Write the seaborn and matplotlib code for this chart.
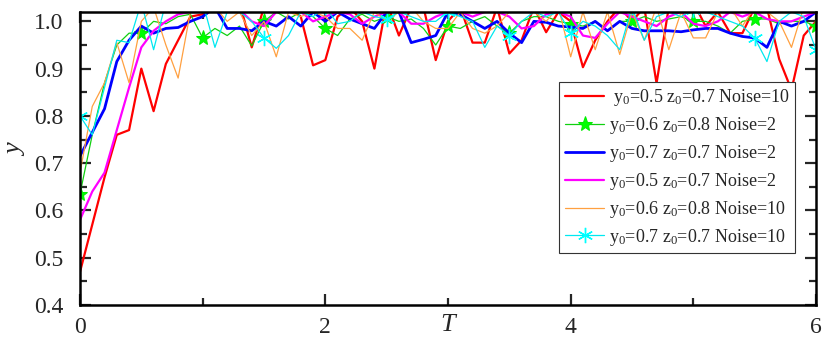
import numpy as np
import pandas as pd
import matplotlib
matplotlib.use('Agg')
import matplotlib.pyplot as plt
import seaborn as sns

# time axis (step 0.1)
t = np.round(np.arange(61) * 0.1, 1)

red = [0.47, 0.57, 0.67, 0.76, 0.77, 0.90, 0.81, 0.91, 0.96, 1.01,
       1.015, 1.04, 1.03, 1.04, 0.945, 1.03, 1.04, 1.03, 1.01, 0.907,
       0.918, 1.01, 1.03, 1.0, 0.90, 1.04, 0.97, 1.03, 1.03, 0.918,
       1.0, 1.03, 0.955, 0.955, 1.03, 0.932, 0.96, 1.03, 0.977, 1.02,
       1.0, 0.903, 0.96, 1.0, 1.03, 1.0, 1.03, 0.869, 1.03, 1.03,
       1.04, 0.99, 1.02, 0.975, 0.975, 1.03, 1.03, 0.92, 0.855, 0.97,
       1.0]
green = [0.635, 0.76, 0.87, 0.95, 0.975, 0.975, 1.0, 0.995, 1.01, 1.015,
         0.965, 0.985, 0.97, 0.99, 0.948, 1.0, 1.02, 1.005, 1.02, 1.01,
         0.985, 0.97, 1.005, 1.015, 1.0, 1.01, 1.0, 1.005, 0.985, 0.95,
         0.99, 0.985, 1.0, 1.01, 0.99, 0.975, 1.0, 1.01, 1.01, 1.0,
         0.995, 0.99, 1.0, 0.98, 1.0, 1.0, 1.01, 1.0, 1.005, 1.01,
         1.0, 1.0, 0.99, 0.975, 1.0, 1.005, 1.005, 0.995, 1.0, 1.0,
         0.99]
blue = [0.715, 0.765, 0.815, 0.915, 0.96, 0.99, 0.975, 0.985, 0.987, 1.0,
        1.01, 1.03, 0.985, 0.985, 0.98, 1.0, 0.99, 1.01, 0.99, 1.02,
        1.0, 1.02, 1.005, 0.995, 0.985, 1.02, 1.02, 0.955, 0.962, 0.97,
        1.02, 1.015, 1.0, 0.985, 1.0, 0.975, 0.955, 1.0, 0.998, 0.99,
        0.988, 0.985, 1.0, 0.98, 1.0, 0.985, 0.98, 0.98, 0.98, 0.978,
        0.982, 0.985, 0.985, 0.975, 0.968, 0.965, 0.945, 1.0, 0.99, 1.0,
        1.02]
magenta = [0.58, 0.64, 0.68, 0.77, 0.86, 0.945, 0.98, 1.0, 1.015, 1.02,
           1.02, 1.03, 1.02, 1.025, 1.0, 0.99, 1.02, 1.03, 1.02, 1.0,
           1.01, 1.02, 1.015, 0.995, 1.01, 1.02, 1.02, 0.995, 0.995, 1.01,
           1.02, 1.02, 1.01, 1.02, 1.02, 1.01, 0.985, 0.99, 1.015, 1.02,
           1.01, 0.97, 0.965, 0.995, 1.02, 1.01, 1.0, 0.99, 1.01, 1.02,
           0.995, 0.99, 1.0, 1.02, 1.01, 1.02, 1.005, 1.0, 1.0, 1.01,
           1.02]
orange = [0.68, 0.82, 0.87, 0.955, 0.87, 1.0, 1.03, 0.95, 0.88, 1.02,
          1.02, 1.03, 1.0, 1.02, 0.97, 1.0, 0.925, 1.02, 1.01, 1.02,
          1.01, 0.985, 0.985, 0.96, 1.02, 1.0, 1.02, 1.03, 1.0, 0.985,
          0.985, 1.02, 0.985, 0.975, 0.99, 1.02, 1.03, 1.02, 1.0, 1.03,
          0.925, 1.02, 0.94, 1.02, 0.93, 1.02, 0.96, 1.03, 0.94, 1.02,
          0.965, 0.965, 1.02, 1.03, 0.99, 1.03, 1.02, 1.0, 0.945, 1.03,
          1.02]
cyan = [0.80, 0.76, 0.86, 0.96, 0.955, 1.04, 0.94, 1.04, 1.02, 1.03,
        1.04, 0.945, 1.02, 1.02, 1.0, 0.965, 0.943, 0.97, 1.02, 1.01,
        1.03, 0.995, 1.0, 1.02, 1.01, 1.005, 1.02, 1.01, 1.0, 1.0,
        1.02, 1.01, 1.0, 0.945, 0.99, 0.97, 1.0, 1.02, 1.01, 1.02,
        0.975, 1.0, 0.99, 0.97, 0.94, 1.03, 0.96, 1.01, 1.02, 1.01,
        1.025, 1.02, 1.01, 1.0, 0.99, 0.965, 0.915, 1.0, 1.02, 1.01,
        0.94]

labels = [' y$_0$=0.5 z$_0$=0.7 Noise=10',
          'y$_0$=0.6 z$_0$=0.8 Noise=2',
          'y$_0$=0.7 z$_0$=0.7 Noise=2',
          'y$_0$=0.5 z$_0$=0.7 Noise=2',
          'y$_0$=0.6 z$_0$=0.8 Noise=10',
          'y$_0$=0.7 z$_0$=0.7 Noise=10']

sns.set_style('ticks')
plt.rcParams['font.family'] = 'serif'
plt.rcParams['font.serif'] = ['Liberation Serif', 'DejaVu Serif']
plt.rcParams['mathtext.fontset'] = 'stix'
plt.rcParams['mathtext.default'] = 'regular'

fig = plt.figure(figsize=(8.23, 3.4), dpi=100)
ax = fig.add_axes([0.0972, 0.103, 0.8943, 0.862])

styles = [
    (red, '#ff0000', 1.6, None, {}),
    (green, '#10d010', 0.9, '*', dict(markersize=11, markerfacecolor='#00ff00', markeredgecolor='#00ee00')),
    (blue, '#0000ff', 2.0, None, {}),
    (magenta, '#ff00ff', 1.6, None, {}),
    (orange, '#ffa040', 0.9, None, {}),
    (cyan, '#00e8f0', 0.9, (6, 2, 0), dict(markersize=11, markeredgewidth=1.0, markeredgecolor='#00ffff')),
]

for (vals, col, lw, mk, extra), lab in zip(styles, labels):
    df = pd.DataFrame({'T': t, 'y': vals})
    kw = dict(extra)
    if mk is not None:
        kw['marker'] = mk
        kw['markevery'] = 5
    sns.lineplot(data=df, x='T', y='y', ax=ax, color=col, lw=lw, label=lab, **kw)

ax.set_xlim(0, 6)
ax.set_ylim(0.4, 1.02)
ax.set_xticks([0, 2, 4, 6])
ax.set_xticks([1, 3, 5], minor=True)
ax.set_yticks([0.4, 0.5, 0.6, 0.7, 0.8, 0.9, 1.0])
ax.set_yticklabels(['0.4', '0.5', '0.6', '0.7', '0.8', '0.9', '1.0'])
ax.set_yticks(np.arange(0.45, 1.0, 0.1), minor=True)
ax.tick_params(which='both', direction='in', top=True, right=True, width=1.6, labelsize=17)
ax.tick_params(which='major', length=8)
ax.tick_params(which='minor', length=5)
ax.tick_params(axis='x', pad=9)
ax.tick_params(axis='y', pad=12)
for s in ax.spines.values():
    s.set_linewidth(1.8)
    s.set_color('black')

ax.set_xlabel('T', fontsize=19, style='italic')
ax.xaxis.set_label_coords(0.5, -0.03)
ax.set_ylabel('y', fontsize=19, style='italic')
ax.yaxis.set_label_coords(-0.072, 0.53)

leg = ax.legend(loc='lower right', bbox_to_anchor=(0.972, 0.177), borderaxespad=0,
                fontsize=13, frameon=True, fancybox=False, framealpha=1,
                edgecolor='#333333', handlelength=2.2, labelspacing=0.38,
                handletextpad=0.25, borderpad=0.3)
leg.get_frame().set_linewidth(0.8)

fig.savefig('out.png', dpi=100)
